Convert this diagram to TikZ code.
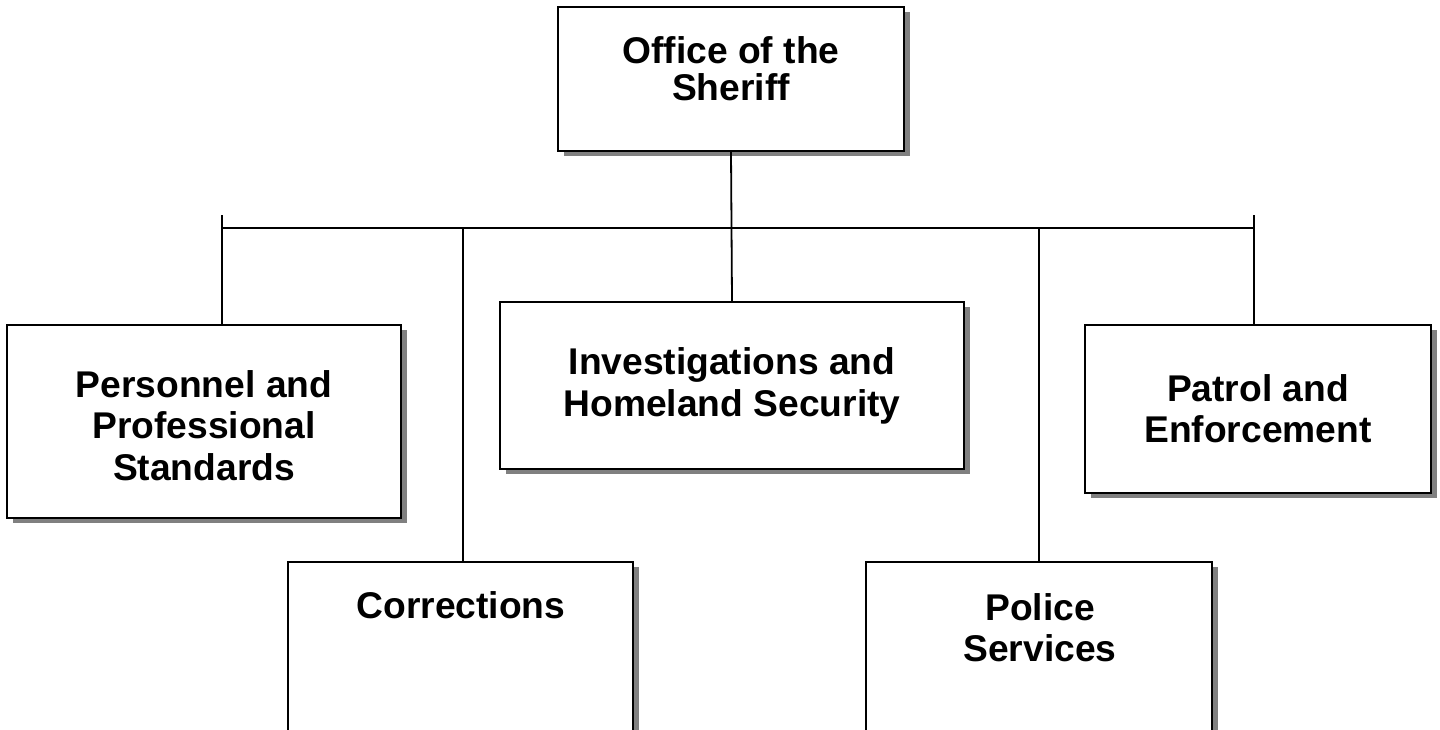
\documentclass[tikz,border=0pt]{standalone}
\usepackage{fontspec}
\setmainfont{Liberation Sans}
\usetikzlibrary{shadows}
\begin{document}
\begin{tikzpicture}[x=0.5pt,y=-0.5pt,
  box/.style={rectangle, draw=black, line width=1pt, fill=white, inner sep=0pt,
    drop shadow={shadow xshift=2.8pt, shadow yshift=-2.6pt, fill=black!50, opacity=1}},
  lbl/.style={align=center, inner sep=0pt, font=\bfseries\fontsize{18.6pt}{20.7pt}\selectfont},
  conn/.style={line width=0.9pt}]
\useasboundingbox (0,0) rectangle (1440,729);
\clip (0,0) rectangle (1440,729);
% boxes
\node[box, minimum width=173pt, minimum height=72pt] (top) at (731,79) {};
\node[box, minimum width=197pt, minimum height=96.5pt] (pps) at (204,421.5) {};
\node[box, minimum width=232pt, minimum height=83.5pt] (ihs) at (732,385.5) {};
\node[box, minimum width=173pt, minimum height=84pt] (pe) at (1258,409) {};
\node[box, minimum width=172.5pt, minimum height=110pt] (cor) at (460.5,672) {};
\node[box, minimum width=173pt, minimum height=110pt] (pol) at (1039,672) {};
% texts
\node[lbl, font=\bfseries\fontsize{18.6pt}{18.5pt}\selectfont] (t-top) at (731,69) {Office of the\\Sheriff};
\node[lbl] (t-pps) at (204,425.5) {Personnel and\\Professional\\Standards};
\node[lbl] (t-ihs) at (732,386) {Investigations and\\Homeland Security};
\node[lbl] (t-pe) at (1258,408.5) {Patrol and\\Enforcement};
\node[lbl] (t-cor) at (461,605.5) {Corrections};
\node[lbl] (t-pol) at (1040,627.5) {Police\\Services};
% connector points
\coordinate (hl) at (222,228);
\coordinate (hr) at (1254,228);
\coordinate (tl) at (222,215);
\coordinate (tr) at (1254,215);
% connectors
\draw[conn] (top.south) -- (ihs.north);
\draw[conn] (hl) -- (hr);
\draw[conn] (tl) -- (tl |- pps.north);
\draw[conn] (tr) -- (tr |- pe.north);
\draw[conn] (cor.north -| 463,0) -- (hl -| 463,0);
\draw[conn] (pol.north) -- (pol.north |- hl);
\end{tikzpicture}
\end{document}
